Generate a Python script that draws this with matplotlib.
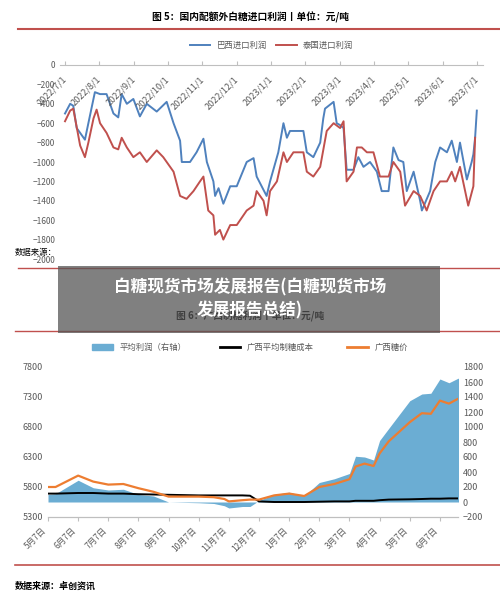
import matplotlib
matplotlib.use("Agg")
import matplotlib.pyplot as plt
from matplotlib.lines import Line2D
from matplotlib.patches import Rectangle, Patch

plt.rcParams['font.family'] = ['Noto Sans CJK SC', 'DejaVu Sans']

# ---- top chart data (x in months since 2022/7/1) ----
top_ticks = ['2022/7/1','2022/8/1','2022/9/1','2022/10/1','2022/11/1','2022/12/1','2023/1/1',
             '2023/2/1','2023/3/1','2023/4/1','2023/5/1','2023/6/1','2023/7/1']
br_x = [0,.15,.24,.34,.58,.68,.87,1.02,1.21,1.41,1.55,1.65,1.80,1.99,2.18,2.38,2.67,2.96,3.16,3.35,3.40,
        3.64,3.83,4.03,4.13,4.32,4.37,4.47,4.61,4.81,5.0,5.29,5.49,5.58,5.87,5.97,6.21,6.36,6.46,6.55,
        6.94,7.04,7.23,7.43,7.52,7.57,7.82,7.91,8.01,8.11,8.20,8.40,8.54,8.69,8.88,9.08,9.22,9.42,9.56,
        9.71,9.85,9.95,10.15,10.34,10.39,10.63,10.78,10.92,11.12,11.26,11.41,11.50,11.70,11.84,11.89,11.94,11.99]
br_y = [-500,-400,-420,-650,-770,-600,-280,-300,-300,-500,-540,-300,-400,-350,-530,-400,-480,-380,-600,-780,-1000,
        -1000,-900,-760,-1000,-1200,-1350,-1270,-1430,-1250,-1250,-1000,-960,-1150,-1350,-1200,-900,-600,-750,-680,
        -680,-900,-950,-800,-550,-450,-380,-600,-620,-650,-1080,-1080,-950,-1050,-1000,-1100,-1300,-1300,-850,
        -980,-1000,-1300,-1100,-1400,-1500,-1300,-1000,-850,-900,-780,-1000,-800,-1180,-1000,-920,-750,-470]
th_x = [0,.15,.24,.44,.58,.68,.83,.92,1.02,1.21,1.41,1.55,1.65,1.80,1.99,2.18,2.38,2.67,2.86,3.16,3.35,3.54,
        3.74,3.93,4.03,4.17,4.32,4.37,4.51,4.61,4.81,5.0,5.29,5.49,5.58,5.78,5.87,5.97,6.17,6.36,6.46,6.65,
        6.94,7.04,7.23,7.43,7.62,7.82,8.01,8.11,8.20,8.40,8.50,8.64,8.79,8.98,9.17,9.42,9.56,9.76,9.90,
        10.15,10.34,10.53,10.73,10.92,11.12,11.26,11.36,11.50,11.74,11.89,11.94]
th_y = [-580,-470,-450,-830,-950,-800,-550,-460,-600,-700,-850,-870,-750,-850,-950,-900,-1000,-880,-950,-1100,-1350,-1380,
        -1300,-1200,-1150,-1500,-1550,-1750,-1700,-1800,-1650,-1650,-1500,-1450,-1300,-1400,-1550,-1300,-1200,-900,-1000,-900,
        -900,-1100,-1150,-1050,-680,-600,-650,-580,-1200,-1100,-850,-850,-900,-900,-1150,-1150,-1000,-1100,-1450,
        -1300,-1350,-1500,-1300,-1200,-1200,-1100,-1200,-1050,-1450,-1250,-750]

# ---- bottom chart data (x in months since 5/7) ----
bot_ticks = ['5月7日','6月7日','7月7日','8月7日','9月7日','10月7日','11月7日','12月7日',
             '1月7日','2月7日','3月7日','4月7日','5月7日','6月7日']
px = [0,0.25,1.0,1.5,2.0,2.5,3.0,3.5,4.0,5.0,5.5,5.85,6.0,6.45,6.7,7.0,7.5,8.0,8.5,9.0,9.5,
      10.0,10.2,10.5,10.8,11.0,11.3,12.0,12.4,12.7,13.0,13.3,13.6,13.9]
price = [5800,5800,5990,5890,5840,5850,5780,5720,5640,5640,5630,5600,5560,5580,5590,5590,5660,5690,5650,5800,
         5850,5930,6140,6190,6150,6360,6560,6880,7030,7020,7240,7190,7270,7260]
cost = [5690,5690,5700,5700,5690,5690,5680,5675,5670,5660,5660,5660,5660,5660,5655,5560,5550,5550,5550,5555,
        5560,5560,5570,5570,5570,5580,5590,5595,5600,5605,5605,5610,5610,5610]
profit = [100,110,290,190,160,170,100,80,0,-10,-20,-50,-80,-60,-60,20,100,130,80,260,
          310,380,610,600,560,820,980,1350,1440,1450,1640,1590,1650,1640]

W, H = 500, 599
fig = plt.figure(figsize=(W/100, H/100), dpi=100)
def fx(p): return p / W
def fy(p): return 1 - p / H

grey = '#595959'
# ---- top chart ----
fig.text(0.5, fy(17), '图 5：国内配额外白糖进口利润丨单位：元/吨', ha='center', va='center',
         fontsize=7, fontweight='bold')
fig.add_artist(Line2D([fx(18), fx(500)], [fy(29), fy(29)], color='#c0504d', lw=1.5))
ax = fig.add_axes([fx(60), fy(259), fx(483-60), fy(65) - fy(259)])
ax.plot(br_x, br_y, color='#4f81bd', lw=1.4, label='巴西进口利润')
ax.plot(th_x, th_y, color='#c0504d', lw=1.4, label='泰国进口利润')
ax.set_ylim(-2000, 0)
ax.set_xlim(-0.146, 12.17)
ax.set_yticks(range(-2000, 1, 200))
ax.tick_params(axis='y', length=0, labelsize=6, labelcolor=grey)
ax.set_xticks(range(13))
ax.tick_params(axis='x', length=3, color='#bfbfbf', labelbottom=False, labeltop=False, top=True, bottom=False)
for i, t in enumerate(top_ticks):
    ax.text(i + 0.1, -100, t, rotation=45, ha='right', va='top', fontsize=6.5, color=grey)
for s in ['right', 'bottom', 'left']:
    ax.spines[s].set_visible(False)
ax.spines['top'].set_color('#bfbfbf')
ax.legend(loc='center', bbox_to_anchor=(0.5, 1.1), ncol=2, frameon=False, fontsize=6,
          labelcolor=grey, handlelength=2.5, columnspacing=1)
fig.text(fx(15), fy(252), '数据来源：', fontsize=6, va='center')
fig.add_artist(Line2D([fx(18), fx(500)], [fy(268), fy(268)], color='#c0504d', lw=1))

# ---- bottom chart ----
fig.text(0.5, fy(316), '图 6：广西制糖利润丨单位：元/吨', ha='center', va='center', fontsize=7, fontweight='bold')
fig.add_artist(Line2D([fx(15), fx(500)], [fy(331), fy(331)], color='#c0504d', lw=1))
ax2 = fig.add_axes([fx(48), fy(517), fx(458-48), fy(367) - fy(517)])
ax3 = ax2.twinx()
ax3.fill_between(px, profit, 0, color='#6badd3', lw=0, label='平均利润（右轴）')
ax3.set_ylim(-200, 1800)
ax3.set_yticks(range(-200, 1801, 200))
ax2.set_zorder(ax3.get_zorder() + 1)
ax2.patch.set_visible(False)
ax2.plot(px, cost, color='black', lw=1.4, label='广西平均制糖成本')
ax2.plot(px, price, color='#ed7d31', lw=1.6, label='广西糖价')
ax2.set_ylim(5300, 7800)
ax2.set_yticks(range(5300, 7801, 500))
ax2.set_xlim(0, 13.6)
ax3.set_xlim(0, 13.6)
ax2.set_xticks(range(14))
ax2.set_xticklabels(bot_ticks, rotation=45, ha='right', fontsize=6, color=grey)
ax2.tick_params(axis='x', length=3, color='#bfbfbf')
ax2.tick_params(axis='y', length=0, labelsize=6.5, labelcolor=grey)
ax3.tick_params(axis='y', length=0, labelsize=6.5, labelcolor=grey)
for a in (ax2, ax3):
    for s in ['right', 'top', 'left']:
        a.spines[s].set_visible(False)
    a.spines['bottom'].set_color('#bfbfbf')
handles = [Patch(color='#6badd3', label='平均利润（右轴）'),
           Line2D([], [], color='black', lw=2, label='广西平均制糖成本'),
           Line2D([], [], color='#ed7d31', lw=2, label='广西糖价')]
fig.legend(handles=handles, loc='center', bbox_to_anchor=(0.5, fy(347)), ncol=3, frameon=False,
           fontsize=6, labelcolor=grey, handlelength=2.5, columnspacing=4)
fig.add_artist(Line2D([fx(15), fx(500)], [fy(565), fy(565)], color='#c0504d', lw=1.2))
fig.text(fx(15), fy(586), '数据来源：卓创资讯', fontsize=6.5, va='center', fontweight='bold')

# ---- overlay banner ----
fig.add_artist(Rectangle((fx(58), fy(333)), fx(440-58), fy(266) - fy(333), transform=fig.transFigure,
                         color='#555555', alpha=0.75, lw=0, zorder=10))
fig.text(0.5, fy(299), '白糖现货市场发展报告(白糖现货市场\n发展报告总结)', ha='center', va='center',
         color='white', fontsize=12, fontweight='bold', linespacing=1.3, zorder=11)

fig.savefig('out.png', dpi=100)
